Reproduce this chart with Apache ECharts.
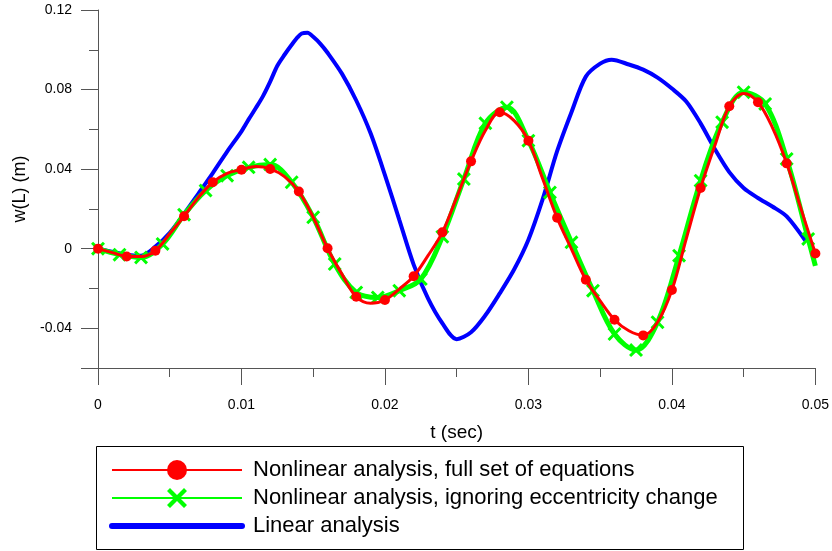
<!DOCTYPE html>
<html>
<head>
<meta charset="utf-8">
<script src="https://cdn.jsdelivr.net/npm/echarts@6/dist/echarts.min.js"></script>
<style>
html,body{margin:0;padding:0;background:#fff;}
#chart{width:832px;height:551px;}
</style>
</head>
<body>
<div id="chart"></div>
<script>
// ---- data ----
const redT = [0,0.001,0.002,0.003,0.004,0.005,0.006,0.007,0.008,0.009,0.010,0.011,0.012,0.013,0.014,0.015,0.016,0.017,0.018,0.019,0.020,0.021,0.022,0.023,0.024,0.025,0.026,0.027,0.028,0.029,0.030,0.031,0.032,0.033,0.034,0.035,0.036,0.037,0.038,0.039,0.040,0.041,0.042,0.043,0.044,0.045,0.046,0.047,0.048,0.049,0.050];
const redV = [0,-0.002,-0.0039,-0.004,-0.001,0.0075,0.0163,0.0258,0.0334,0.0379,0.0397,0.0413,0.0401,0.0362,0.0287,0.0158,0.0002,-0.0128,-0.0242,-0.0275,-0.0258,-0.0203,-0.0139,-0.0035,0.0082,0.0258,0.0439,0.0594,0.0686,0.0644,0.0543,0.035,0.0155,-0.0002,-0.0156,-0.0262,-0.0357,-0.0413,-0.0436,-0.037,-0.0208,0.005,0.0305,0.052,0.0716,0.078,0.0736,0.061,0.0429,0.020,-0.0024];

const greenT = [0,0.0015,0.003,0.0045,0.006,0.0075,0.009,0.0105,0.012,0.0135,0.015,0.0165,0.018,0.0195,0.021,0.0225,0.024,0.0255,0.027,0.0285,0.030,0.0315,0.033,0.0345,0.036,0.0375,0.039,0.0405,0.042,0.0435,0.045,0.0465,0.048,0.0495,0.050];
const greenV = [0,-0.003,-0.0044,0.0024,0.0171,0.0292,0.0367,0.0409,0.0423,0.0334,0.0158,-0.0077,-0.022,-0.0245,-0.0211,-0.0153,0.006,0.035,0.063,0.0711,0.0543,0.0283,0.0032,-0.0211,-0.0429,-0.051,-0.037,-0.0035,0.0342,0.0636,0.0787,0.0728,0.0451,0.0049,-0.0086];
const greenMarked = 34; // crosses on the first 34 samples

const blueT = [0,0.002,0.003,0.004,0.005,0.006,0.007,0.008,0.009,0.010,0.0105,0.011,0.0115,0.012,0.0125,0.013,0.0135,0.0139,0.0142,0.0146,0.015,0.0155,0.016,0.017,0.018,0.019,0.020,0.021,0.022,0.023,0.024,0.025,0.026,0.027,0.028,0.029,0.030,0.031,0.032,0.033,0.034,0.035,0.0358,0.037,0.038,0.039,0.040,0.041,0.042,0.043,0.044,0.045,0.046,0.047,0.048,0.0493];
const blueV = [0,-0.003,-0.0035,0.001,0.008,0.0175,0.0277,0.038,0.0488,0.059,0.065,0.0707,0.0767,0.084,0.092,0.0975,0.1025,0.1062,0.1082,0.1086,0.1065,0.103,0.0985,0.088,0.0745,0.058,0.037,0.0145,-0.008,-0.025,-0.0375,-0.0455,-0.042,-0.0335,-0.0225,-0.0105,0.0045,0.025,0.049,0.0686,0.0865,0.093,0.095,0.0926,0.090,0.086,0.0805,0.074,0.063,0.050,0.0385,0.0305,0.0255,0.0212,0.0162,0.004];

const xTicks = [0,0.01,0.02,0.03,0.04,0.05];
const yLabels = [-0.04,0,0.04,0.08,0.12];
const yMajorTicks = [-0.06,-0.04,0,0.04,0.08,0.12];
const yMinorTicks = [-0.02,0.02,0.06,0.10];

const names = [
  'Nonlinear analysis, full set of equations',
  'Nonlinear analysis, ignoring eccentricity change',
  'Linear analysis'
];

const FONT = 'Liberation Sans, Arial, sans-serif';
const CROSS = 'path://M0,1.5L1.5,0L5,3.5L8.5,0L10,1.5L6.5,5L10,8.5L8.5,10L5,6.5L1.5,10L0,8.5L3.5,5Z';

const redData = redT.map((t,i)=> i%2===0 ? [t, redV[i]] : {value:[t, redV[i]], symbol:'none'});
const greenData = greenT.map((t,i)=> i<greenMarked ? [t, greenV[i]] : {value:[t, greenV[i]], symbol:'none'});
const blueData = blueT.map((t,i)=>[t, blueV[i]]);

const chart = echarts.init(document.getElementById('chart'), null, {renderer:'canvas'});
const axisGray = '#555';
chart.setOption({
  animation:false,
  backgroundColor:'#fff',
  textStyle:{fontFamily:FONT},
  grid:{left:98, right:15, top:10, bottom:183, containLabel:false},
  xAxis:[{
    type:'value', min:0, max:0.05, interval:0.01,
    name:'t (sec)', nameLocation:'middle', nameGap:55,
    nameTextStyle:{fontSize:19, color:'#000', fontFamily:FONT},
    axisLine:{show:true, onZero:false, lineStyle:{color:axisGray, width:1}},
    axisTick:{show:true, inside:false, length:17, lineStyle:{color:axisGray}},
    minorTick:{show:true, splitNumber:2, length:9, lineStyle:{color:axisGray}},
    axisLabel:{margin:30, fontSize:14, color:'#000', fontFamily:FONT,
      formatter:v=> String(+v.toFixed(3))},
    splitLine:{show:false}, minorSplitLine:{show:false}
  }],
  yAxis:[{
    type:'value', min:-0.06, max:0.12,
    name:'w(L) (m)', nameLocation:'middle', nameGap:64, nameRotate:90,
    nameTextStyle:{fontSize:18, color:'#000', fontFamily:FONT},
    axisLine:{show:true, onZero:false, lineStyle:{color:axisGray, width:1}},
    axisTick:{show:true, length:17, customValues:yMajorTicks, lineStyle:{color:axisGray}},
    axisLabel:{margin:26, fontSize:14, color:'#000', fontFamily:FONT, customValues:yLabels,
      formatter:v=> String(+(+v).toFixed(3))},
    splitLine:{show:false}
  },{
    type:'value', min:-0.06, max:0.12, position:'left',
    axisLine:{show:false},
    axisTick:{show:true, length:9, customValues:yMinorTicks, lineStyle:{color:axisGray}},
    axisLabel:{show:false},
    splitLine:{show:false}
  }],
  legend:{
    show:true, orient:'vertical', left:109, top:459, padding:0,
    itemWidth:130, itemHeight:25, itemGap:6,
    textStyle:{fontSize:22, color:'#000', fontFamily:FONT, padding:[0,0,0,6]},
    data:[
      {name:names[0], lineStyle:{width:2}},
      {name:names[1], lineStyle:{width:2}},
      {name:names[2], lineStyle:{width:6, cap:'round'}, itemStyle:{opacity:0}}
    ]
  },
  graphic:[{
    type:'rect', shape:{x:96.5, y:446.5, width:647, height:103},
    style:{fill:'none', stroke:'#000', lineWidth:1}, silent:true
  }],
  series:[
    {
      name:names[2], type:'line', data:blueData, smooth:0.3,
      symbol:'none', lineStyle:{color:'#0000ff', width:4}, itemStyle:{color:'#0000ff'}, z:1
    },
    {
      name:names[1], type:'line', data:greenData, smooth:0.35,
      symbol:CROSS, symbolSize:14, showAllSymbol:true,
      lineStyle:{color:'#00ff00', width:5}, itemStyle:{color:'#00ff00'}, z:2
    },
    {
      name:names[0], type:'line', data:redData, smooth:0.35,
      symbol:'circle', symbolSize:10, showAllSymbol:true,
      lineStyle:{color:'#ff0000', width:3}, itemStyle:{color:'#ff0000'}, z:3
    }
  ]
});
</script>
</body>
</html>
